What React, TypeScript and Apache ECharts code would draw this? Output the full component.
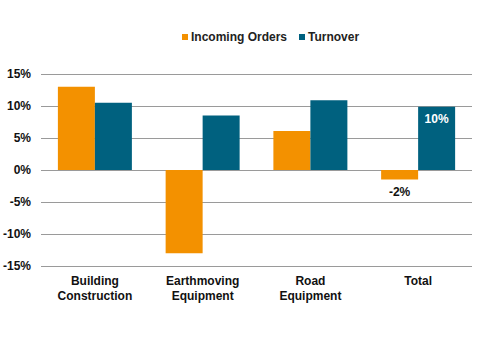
import React, { useEffect, useRef } from "react";
import * as echarts from "echarts";

const categories = ["Building\nConstruction", "Earthmoving\nEquipment", "Road\nEquipment", "Total"];
const incomingOrders = [13.0, -13.0, 6.1, -1.5];
const turnover = [10.5, 8.5, 10.9, 9.9];
const incomingLabels = ["", "", "", "-2%"];
const turnoverLabels = ["", "", "", "10%"];
const yTicks = { min: -15, max: 15, interval: 5 };

const FONT = "'Liberation Sans', Arial, sans-serif";

export default function App() {
  const ref = useRef<HTMLDivElement>(null);
  useEffect(() => {
    document.body.style.margin = "0";
    if (!ref.current) return;
    const chart = echarts.init(ref.current, undefined, { renderer: "svg" });
    const mk = (vals: number[], labels: string[], pos: string, color: string) =>
      vals.map((v, i) =>
        labels[i]
          ? {
              value: v,
              label: {
                show: true,
                position: pos,
                formatter: labels[i],
                color,
                fontWeight: "bold",
                fontSize: 12,
                fontFamily: FONT,
                distance: 6,
              },
            }
          : v
      );
    chart.setOption({
      animation: false,
      textStyle: { fontFamily: FONT },
      legend: {
        top: 26,
        left: 177,
        itemWidth: 6,
        itemHeight: 6,
        itemGap: 12,
        icon: "rect",
        textStyle: { fontWeight: "bold", fontSize: 12, color: "#222", fontFamily: FONT, padding: [0, 0, 0, -2] },
        data: ["Incoming Orders", "Turnover"],
      },
      grid: { left: 40, right: 8, top: 74, bottom: 83 },
      xAxis: {
        type: "category",
        data: categories,
        axisLine: { show: false, onZero: false },
        axisTick: { show: false },
        axisLabel: {
          fontWeight: "bold",
          fontSize: 12,
          color: "#111",
          lineHeight: 15,
          margin: 7,
          fontFamily: FONT,
        },
      },
      yAxis: {
        type: "value",
        min: yTicks.min,
        max: yTicks.max,
        interval: yTicks.interval,
        axisLine: { show: false },
        axisTick: { show: false },
        axisLabel: {
          formatter: "{value}%",
          fontWeight: "bold",
          fontSize: 12,
          color: "#111",
          margin: 10,
          fontFamily: FONT,
        },
        splitLine: { lineStyle: { color: "#9a9a9a", width: 1 } },
      },
      series: [
        {
          name: "Incoming Orders",
          type: "bar",
          data: mk(incomingOrders, incomingLabels, "bottom", "#111"),
          itemStyle: { color: "#F39100" },
          barWidth: 37,
          barGap: "0%",
        },
        {
          name: "Turnover",
          type: "bar",
          data: mk(turnover, turnoverLabels, "insideTop", "#fff"),
          itemStyle: { color: "#00617F" },
          barWidth: 37,
          barGap: "0%",
        },
      ],
    });
    return () => chart.dispose();
  }, []);
  return <div ref={ref} style={{ width: 480, height: 349 }} />;
}
